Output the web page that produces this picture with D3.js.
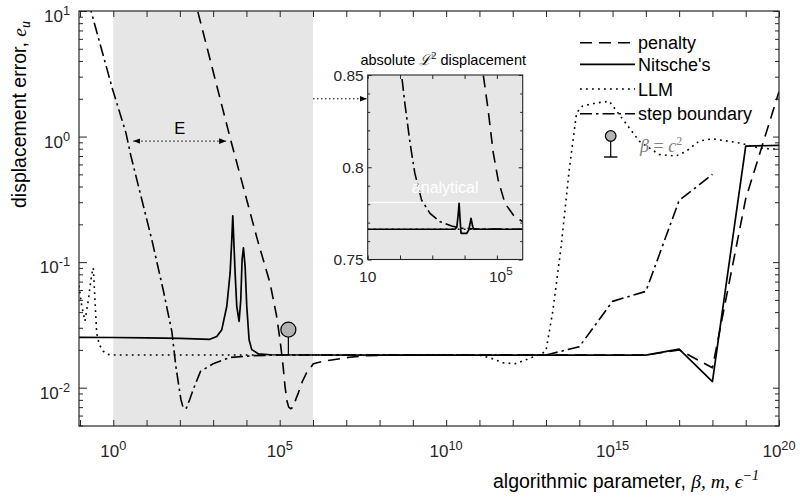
<!DOCTYPE html>
<html>
<head>
<meta charset="utf-8">
<script src="https://cdn.jsdelivr.net/npm/d3@7"></script>
<style>
  body { margin: 0; background: #fff; }
  svg { display: block; }
  text { font-family: "Liberation Sans", Arial, Helvetica, sans-serif; }
  .math { font-family: "Liberation Serif", "DejaVu Serif", serif; font-style: italic; }
</style>
</head>
<body>
<svg id="chart" width="800" height="503"></svg>
<script>
// ---- data: x values are log10 of the algorithmic parameter ----
var nitscheExp = [-1.03, 0, 1, 2, 2.9, 3.11, 3.26, 3.41, 3.51, 3.56, 3.59, 3.66, 3.71, 3.78, 3.83, 3.87, 3.91, 3.96, 4.01, 4.08, 4.16, 4.36, 4.71, 8, 12, 16, 17, 18, 19, 20];
var nitscheErr = [0.0252, 0.0251, 0.0249, 0.0247, 0.0243, 0.0256, 0.029, 0.0445, 0.082, 0.151, 0.234, 0.082, 0.0445, 0.0338, 0.050, 0.105, 0.130, 0.093, 0.0445, 0.0241, 0.0201, 0.0186, 0.0183, 0.0182, 0.0182, 0.0182, 0.0203, 0.0112, 0.84, 0.85];

var penaltyExp = [2.40, 2.535, 3.0, 3.5, 4.0, 4.33, 4.71, 4.9, 5.01, 5.10, 5.16, 5.22, 5.27, 5.33, 5.40, 5.45, 5.50, 5.56, 5.68, 5.81, 6.01, 6.3, 6.61, 7.1, 7.61, 8.5, 12, 16, 17, 18, 19, 20];
var penaltyErr = [13.8, 10, 3.3, 1.0, 0.32, 0.151, 0.068, 0.038, 0.024, 0.015, 0.0102, 0.0078, 0.0070, 0.0068, 0.0070, 0.0076, 0.0083, 0.0091, 0.0112, 0.0132, 0.0155, 0.0162, 0.0167, 0.0175, 0.0180, 0.0182, 0.0182, 0.0182, 0.0200, 0.0144, 0.32, 2.28];

var llmExp = [-1.03, -0.95, -0.85, -0.75, -0.65, -0.60, -0.55, -0.50, -0.42, -0.30, -0.15, 0, 5, 11.0, 11.4, 11.71, 12.07, 12.37, 12.67, 12.87, 13.0, 13.2, 13.45, 13.7, 13.92, 14.1, 14.5, 14.9, 15.2, 15.8, 16.4, 16.9, 17.2, 17.6, 18.0, 18.8, 19.4, 20];
var llmErr = [0.065, 0.045, 0.034, 0.05, 0.08, 0.09, 0.05, 0.0273, 0.022, 0.0195, 0.0184, 0.0182, 0.0182, 0.0182, 0.0170, 0.0158, 0.0155, 0.0166, 0.0178, 0.0186, 0.0197, 0.04, 0.13, 0.55, 1.55, 1.75, 1.85, 1.91, 1.5, 0.92, 0.72, 0.70, 0.76, 0.92, 0.96, 0.89, 0.81, 0.79];

var stepExp = [-0.75, -0.67, -0.02, 0.38, 0.53, 1.16, 1.50, 1.76, 1.88, 2.03, 2.10, 2.15, 2.20, 2.30, 2.39, 2.62, 3.0, 3.5, 4.2, 5, 8, 12, 13, 14, 15, 16, 17, 18];
var stepErr = [12, 10, 2.37, 1.07, 0.70, 0.150, 0.060, 0.028, 0.0148, 0.0081, 0.0069, 0.0068, 0.0069, 0.0081, 0.0095, 0.0135, 0.0155, 0.0174, 0.0180, 0.0182, 0.0182, 0.0182, 0.0182, 0.0212, 0.0487, 0.0585, 0.31, 0.50];

// inset: absolute L2 displacement
var insetNitscheExp = [1, 3.70, 3.76, 3.80, 3.83, 3.86, 3.89, 4.07, 4.13, 4.2, 4.25, 4.29, 5.8];
var insetNitscheVal = [0.7664, 0.7664, 0.7675, 0.774, 0.7805, 0.772, 0.7642, 0.7642, 0.7660, 0.7723, 0.768, 0.7664, 0.7664];
var insetPenaltyExp = [4.55, 4.58, 4.73, 4.89, 5.04, 5.25, 5.51, 5.72, 5.8];
var insetPenaltyVal = [0.86, 0.85, 0.831, 0.8076, 0.7931, 0.7805, 0.7741, 0.7714, 0.7705];
var insetStepExp = [2.02, 2.05, 2.15, 2.31, 2.46, 2.67, 2.93, 3.24, 3.60, 3.9, 4.4, 5.8];
var insetStepVal = [0.86, 0.85, 0.8347, 0.8133, 0.7967, 0.7822, 0.7750, 0.7705, 0.7682, 0.7670, 0.7665, 0.7664];
var insetLlmExp = [1, 5.8];
var insetLlmVal = [0.7664, 0.7664];
var analyticalVal = 0.781;

var xLabelExps = [0, 5, 10, 15, 20];
var yLabelExps = [-2, -1, 0, 1];
var insetYLabels = [0.75, 0.8, 0.85];
var insetXLabelExps = [1, 5];
var legendNames = ["penalty", "Nitsche's", "LLM", "step boundary"];

// ---- layout ----
var svg = d3.select("#chart");
var L = 79, R = 779, T = 11, B = 426;
var x = d3.scaleLog().domain([Math.pow(10, -1.03), 1e20]).range([L, R]);
var y = d3.scaleLog().domain([Math.pow(10, -2.305), 10]).range([B, T]);

var IL = 367.7, IR = 522.7, IT = 75, IB = 259.5;
var ix = d3.scaleLog().domain([10, Math.pow(10, 5.8)]).range([IL, IR]);
var iy = d3.scaleLinear().domain([0.75, 0.85]).range([IB, IT]);

var styles = {
    penalty: { dash: "12,7", w: 1.6 },
    nitsche: { dash: null, w: 1.7 },
    llm: { dash: "1.8,4.2", w: 1.6 },
    step: { dash: "12,4,2.5,4", w: 1.6 }
};

function pairs(ex, vals) {
    return ex.map(function (e, i) { return [Math.pow(10, e), vals[i]]; });
}

var defs = svg.append("defs");
defs.append("clipPath").attr("id", "clipMain").append("rect")
    .attr("x", L).attr("y", T).attr("width", R - L).attr("height", B - T);
defs.append("clipPath").attr("id", "clipInset").append("rect")
    .attr("x", IL).attr("y", IT).attr("width", IR - IL).attr("height", IB - IT);
defs.append("marker").attr("id", "arr").attr("viewBox", "0 0 10 10")
    .attr("refX", 10).attr("refY", 5).attr("markerWidth", 7).attr("markerHeight", 7)
    .attr("markerUnits", "userSpaceOnUse").attr("orient", "auto-start-reverse")
    .append("path").attr("d", "M0,1 L10,5 L0,9 Z").attr("fill", "#000");

// shaded band 10^0 .. 10^6
svg.append("rect")
    .attr("x", x(1)).attr("y", T).attr("width", x(1e6) - x(1)).attr("height", B - T)
    .attr("fill", "#e6e6e6");

// curves
var line = d3.line().x(function (d) { return x(d[0]); }).y(function (d) { return y(d[1]); });
var curves = svg.append("g").attr("clip-path", "url(#clipMain)");
function drawMain(ex, vals, st) {
    curves.append("path").attr("d", line(pairs(ex, vals)))
        .attr("fill", "none").attr("stroke", "#000").attr("stroke-width", st.w)
        .attr("stroke-dasharray", st.dash).attr("stroke-linejoin", "round");
}
drawMain(llmExp, llmErr, styles.llm);
drawMain(stepExp, stepErr, styles.step);
drawMain(penaltyExp, penaltyErr, styles.penalty);
drawMain(nitscheExp, nitscheErr, styles.nitsche);

// axes (ticks only, box drawn separately)
var xDec = d3.range(-1, 21).map(function (e) { return Math.pow(10, e); });
var yMajor = d3.range(-2, 2).map(function (e) { return Math.pow(10, e); });
var yMinor = [];
d3.range(-3, 1).forEach(function (e) {
    for (var k = 2; k <= 9; k++) {
        var v = k * Math.pow(10, e);
        if (v > y.domain()[0] && v < 10) yMinor.push(v);
    }
});
function tickAxis(axis, tr) {
    var g = svg.append("g").attr("transform", tr).call(axis);
    g.select(".domain").remove();
    g.selectAll("line").attr("stroke", "#262626");
    g.selectAll("text").remove();
    return g;
}
var xv = xDec.filter(function (v) { return v >= x.domain()[0]; });
tickAxis(d3.axisBottom(x).tickValues(xv).tickSize(-6).tickFormat(""), "translate(0," + B + ")");
tickAxis(d3.axisTop(x).tickValues(xv).tickSize(-6).tickFormat(""), "translate(0," + T + ")");
tickAxis(d3.axisLeft(y).tickValues(yMajor).tickSize(-8).tickFormat(""), "translate(" + L + ",0)");
tickAxis(d3.axisLeft(y).tickValues(yMinor).tickSize(-4).tickFormat(""), "translate(" + L + ",0)");
tickAxis(d3.axisRight(y).tickValues(yMajor).tickSize(-6).tickFormat(""), "translate(" + R + ",0)");
tickAxis(d3.axisRight(y).tickValues(yMinor).tickSize(-4).tickFormat(""), "translate(" + R + ",0)");

svg.append("rect").attr("x", L).attr("y", T).attr("width", R - L).attr("height", B - T)
    .attr("fill", "none").attr("stroke", "#262626").attr("stroke-width", 1.2);

// power-of-ten labels
function powLabel(px, py, exp, anchor, size) {
    var t = svg.append("text").attr("x", px).attr("y", py)
        .attr("text-anchor", anchor).attr("font-size", size).attr("fill", "#262626");
    t.append("tspan").text("10");
    t.append("tspan").attr("dy", -7).attr("font-size", size * 0.75).text(exp < 0 ? "-" + (-exp) : exp);
    return t;
}
xLabelExps.forEach(function (e) { powLabel(x(Math.pow(10, e)), 456.7, e, "middle", 17); });
yLabelExps.forEach(function (e) { powLabel(70, y(Math.pow(10, e)) + 11, e, "end", 17); });

// axis titles
var xt = svg.append("text").attr("x", 493).attr("y", 488).attr("font-size", 19.5).attr("fill", "#000");
xt.append("tspan").text("algorithmic parameter, ");
xt.append("tspan").attr("class", "math").text("β");
xt.append("tspan").attr("class", "math").attr("font-style", "normal").text(", ");
xt.append("tspan").attr("class", "math").text("m");
xt.append("tspan").attr("class", "math").attr("font-style", "normal").text(", ");
xt.append("tspan").attr("class", "math").text("ϵ");
xt.append("tspan").attr("class", "math").attr("font-style", "normal").attr("dy", -8).attr("font-size", 14).text("−1");

var yt = svg.append("text").attr("transform", "translate(26,208) rotate(-90)")
    .attr("font-size", 19.5).attr("fill", "#000");
yt.append("tspan").text("displacement error, ");
yt.append("tspan").attr("class", "math").text("e");
yt.append("tspan").attr("class", "math").attr("dy", 4).attr("font-size", 14).text("u");

// marker in the shaded band
var mx = x(Math.pow(10, 5.26));
svg.append("line").attr("x1", mx).attr("x2", mx).attr("y1", y(0.029)).attr("y2", y(0.0182))
    .attr("stroke", "#000").attr("stroke-width", 1.2);
svg.append("circle").attr("cx", mx).attr("cy", y(0.029)).attr("r", 7.5)
    .attr("fill", "#b3b3b3").attr("stroke", "#000").attr("stroke-width", 1.2);

// E annotation
var ey = y(0.92);
svg.append("line").attr("x1", x(Math.pow(10, 0.6))).attr("x2", x(Math.pow(10, 3.39)))
    .attr("y1", ey).attr("y2", ey).attr("stroke", "#000").attr("stroke-width", 1)
    .attr("stroke-dasharray", "1.5,2.5")
    .attr("marker-start", "url(#arr)").attr("marker-end", "url(#arr)");
svg.append("text").attr("x", x(Math.pow(10, 2.0))).attr("y", y(0.92) - 7)
    .attr("text-anchor", "middle").attr("font-size", 16.5).text("E");

// arrow to inset
svg.append("line").attr("x1", x(1e6)).attr("x2", IL - 1).attr("y1", y(2)).attr("y2", y(2))
    .attr("stroke", "#000").attr("stroke-width", 1).attr("stroke-dasharray", "1.5,2.5")
    .attr("marker-end", "url(#arr)");

// ---- inset ----
svg.append("rect").attr("x", IL).attr("y", IT).attr("width", IR - IL).attr("height", IB - IT)
    .attr("fill", "#e6e6e6");
var iline = d3.line().x(function (d) { return ix(d[0]); }).y(function (d) { return iy(d[1]); });
var ic = svg.append("g").attr("clip-path", "url(#clipInset)");
ic.append("line").attr("x1", IL).attr("x2", IR).attr("y1", iy(analyticalVal)).attr("y2", iy(analyticalVal))
    .attr("stroke", "#fff").attr("stroke-width", 1.2);
function drawInset(ex, vals, st) {
    ic.append("path").attr("d", iline(pairs(ex, vals)))
        .attr("fill", "none").attr("stroke", "#000").attr("stroke-width", st.w)
        .attr("stroke-dasharray", st.dash).attr("stroke-linejoin", "round");
}
drawInset(insetLlmExp, insetLlmVal, styles.llm);
drawInset(insetStepExp, insetStepVal, styles.step);
drawInset(insetPenaltyExp, insetPenaltyVal, styles.penalty);
drawInset(insetNitscheExp, insetNitscheVal, styles.nitsche);
svg.append("text").attr("x", (IL + IR) / 2).attr("y", 193).attr("text-anchor", "middle")
    .attr("font-size", 16).attr("fill", "#fff").text("analytical");

var ixTicks = [1, 2, 3, 4, 5].map(function (e) { return Math.pow(10, e); });
var iyMinor = d3.range(0.76, 0.85, 0.01).filter(function (v) { return Math.abs(v - 0.8) > 0.001; });
tickAxis(d3.axisBottom(ix).tickValues(ixTicks).tickSize(-4).tickFormat(""), "translate(0," + IB + ")");
tickAxis(d3.axisTop(ix).tickValues(ixTicks).tickSize(-4).tickFormat(""), "translate(0," + IT + ")");
tickAxis(d3.axisLeft(iy).tickValues(insetYLabels).tickSize(-4).tickFormat(""), "translate(" + IL + ",0)");
tickAxis(d3.axisLeft(iy).tickValues(iyMinor).tickSize(-2.5).tickFormat(""), "translate(" + IL + ",0)");
tickAxis(d3.axisRight(iy).tickValues(insetYLabels).tickSize(-4).tickFormat(""), "translate(" + IR + ",0)");
tickAxis(d3.axisRight(iy).tickValues(iyMinor).tickSize(-2.5).tickFormat(""), "translate(" + IR + ",0)");
svg.append("rect").attr("x", IL).attr("y", IT).attr("width", IR - IL).attr("height", IB - IT)
    .attr("fill", "none").attr("stroke", "#262626").attr("stroke-width", 1.1);

insetYLabels.forEach(function (v) {
    svg.append("text").attr("x", IL - 4).attr("y", iy(v) + 5.5).attr("text-anchor", "end")
        .attr("font-size", 15.5).attr("fill", "#262626").text(v === 0.8 ? "0.8" : v.toFixed(2));
});
insetXLabelExps.forEach(function (e) {
    if (e === 1) {
        svg.append("text").attr("x", ix(10)).attr("y", 281.5).attr("text-anchor", "middle")
            .attr("font-size", 15.5).attr("fill", "#262626").text("10");
    } else {
        powLabel(ix(Math.pow(10, e)) + 4, 281.5, e, "middle", 15.5);
    }
});
var ttl = svg.append("text").attr("x", (IL + IR) / 2 - 2).attr("y", 64.5).attr("text-anchor", "middle")
    .attr("font-size", 14.5).attr("fill", "#000");
ttl.append("tspan").text("absolute ");
ttl.append("tspan").attr("font-family", "DejaVu Serif, serif").attr("font-style", "italic").text("ℒ");
ttl.append("tspan").attr("dy", -6).attr("font-size", 10.5).attr("font-family", "Liberation Serif, serif").text("2");
ttl.append("tspan").attr("dy", 6).text(" displacement");

// ---- legend ----
var legendY = [42.7, 64.3, 89, 113.8];
var legendStyles = [styles.penalty, styles.nitsche, styles.llm, styles.step];
legendNames.forEach(function (name, i) {
    svg.append("line").attr("x1", 580).attr("x2", 635).attr("y1", legendY[i]).attr("y2", legendY[i])
        .attr("stroke", "#000").attr("stroke-width", legendStyles[i].w)
        .attr("stroke-dasharray", legendStyles[i].dash);
    svg.append("text").attr("x", 638).attr("y", legendY[i] + 6.5).attr("font-size", 18).text(name);
});

// beta = c^2 marker key
svg.append("line").attr("x1", 610.7).attr("x2", 610.7).attr("y1", 141).attr("y2", 157)
    .attr("stroke", "#000").attr("stroke-width", 1.2);
svg.append("line").attr("x1", 604).attr("x2", 617.4).attr("y1", 157).attr("y2", 157)
    .attr("stroke", "#000").attr("stroke-width", 1.4);
svg.append("circle").attr("cx", 610.7).attr("cy", 136).attr("r", 5.3)
    .attr("fill", "#b3b3b3").attr("stroke", "#000").attr("stroke-width", 1.2);
var bt = svg.append("text").attr("x", 640).attr("y", 152).attr("font-size", 18).attr("fill", "#808080")
    .attr("class", "math");
bt.append("tspan").text("β");
bt.append("tspan").attr("font-style", "normal").text(" = ");
bt.append("tspan").text("c");
bt.append("tspan").attr("font-style", "normal").attr("dy", -7).attr("font-size", 12).text("2");
</script>
</body>
</html>
